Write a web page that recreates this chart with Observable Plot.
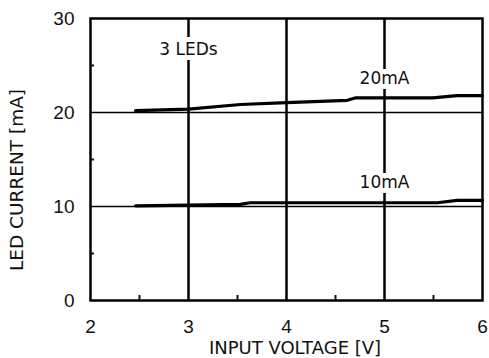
<!DOCTYPE html>
<html><head><meta charset="utf-8">
<script src="https://cdn.jsdelivr.net/npm/d3@7"></script>
<script src="https://cdn.jsdelivr.net/npm/@observablehq/plot@0.6"></script>
<style>body{margin:0;background:#fff} svg{display:block}</style>
</head><body><div id="chart"></div>
<script>
// Data
const voltage20 = [2.46, 3.0, 3.53, 4.0, 4.62, 4.7, 5.49, 5.74, 6.0];
const current20 = [20.2, 20.35, 20.85, 21.05, 21.3, 21.55, 21.55, 21.8, 21.8];
const voltage10 = [2.46, 3.0, 3.53, 3.63, 5.54, 5.74, 6.0];
const current10 = [10.07, 10.15, 10.23, 10.4, 10.4, 10.65, 10.65];
const xTicks = [2, 3, 4, 5, 6];
const yTicks = [0, 10, 20, 30];
const xMinor = [2.5, 3.5, 4.5, 5.5];
const yMinor = [5, 15, 25];
const xGrid = [3, 4, 5];
const yGrid = [10, 20];
const labelText = ["3 LEDs", "20mA", "10mA"];
const labelX = [3, 5, 5];
const labelY = [26.7, 23.6, 12.6];
const xTitle = "INPUT VOLTAGE [V]";
const yTitle = "LED CURRENT [mA]";

const s20 = voltage20.map((v, i) => ({v, c: current20[i]}));
const s10 = voltage10.map((v, i) => ({v, c: current10[i]}));
const labels = labelText.map((t, i) => ({t, x: labelX[i], y: labelY[i]}));

const plot = Plot.plot({
  width: 489,
  height: 358,
  marginLeft: 90,
  marginRight: 7,
  marginTop: 18,
  marginBottom: 58,
  style: {fontFamily: "'Liberation Sans', Arial, sans-serif", fontSize: "19px", color: "#111", background: "#fff"},
  x: {domain: [2, 6]},
  y: {domain: [0, 30]},
  marks: [
    Plot.ruleX(xGrid, {stroke: "#000", strokeWidth: 2.5}),
    Plot.ruleY(yGrid, {stroke: "#000", strokeWidth: 1.3}),
    Plot.line(s20, {x: "v", y: "c", stroke: "#000", strokeWidth: 3.2}),
    Plot.line(s10, {x: "v", y: "c", stroke: "#000", strokeWidth: 3.2}),
    Plot.text(labels, {x: "x", y: "y", text: "t", fontFamily: "'DejaVu Sans', Verdana, sans-serif", fontSize: 17, fill: "#111", stroke: "#fff", strokeWidth: 10}),
    Plot.frame({stroke: "#000", strokeWidth: 2.5}),
    Plot.axisX(xTicks, {tickSize: 0, tickPadding: 19, fontSize: 19, label: null}),
    Plot.axisY(yTicks, {tickSize: 0, tickPadding: 16, fontSize: 19, label: null}),
    Plot.axisX(xMinor, {tickSize: -5, strokeWidth: 2, tickFormat: () => "", label: null}),
    Plot.axisY(yMinor, {tickSize: -4, strokeWidth: 2, tickFormat: () => "", label: null})
  ]
});

const svg = d3.select(plot);
svg.append("text")
  .attr("x", 295).attr("y", 354)
  .attr("text-anchor", "middle")
  .style("font-family", "'DejaVu Sans', Verdana, sans-serif")
  .style("font-size", "18px")
  .attr("fill", "#111")
  .text(xTitle);
svg.append("text")
  .attr("transform", "translate(23,180) rotate(-90)")
  .attr("text-anchor", "middle")
  .style("font-family", "'DejaVu Sans', Verdana, sans-serif")
  .style("font-size", "18.5px")
  .attr("fill", "#111")
  .text(yTitle);

document.getElementById("chart").appendChild(plot);
</script>
</body></html>
